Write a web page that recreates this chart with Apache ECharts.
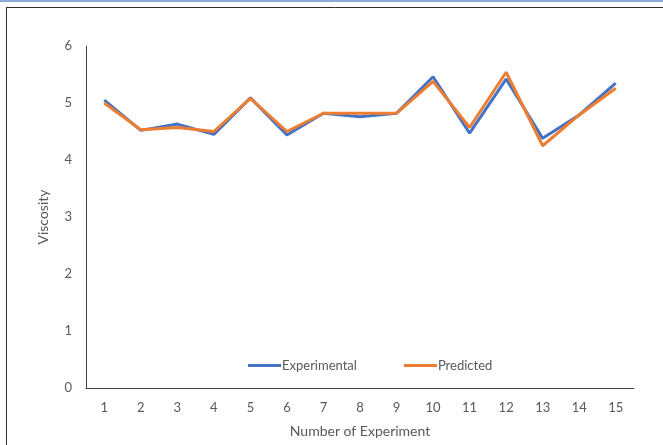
<!DOCTYPE html>
<html>
<head>
<meta charset="utf-8">
<script src="https://cdn.jsdelivr.net/npm/echarts@6/dist/echarts.min.js"></script>
<style>html,body{margin:0;padding:0;background:#fff}#c{width:663px;height:445px}</style>
</head>
<body>
<div id="c"></div>
<script>
var categories = ['1','2','3','4','5','6','7','8','9','10','11','12','13','14','15'];
var experimental = [5.05, 4.52, 4.63, 4.45, 5.09, 4.44, 4.82, 4.76, 4.82, 5.46, 4.47, 5.42, 4.38, 4.79, 5.35];
var predicted = [5.00, 4.53, 4.57, 4.50, 5.08, 4.50, 4.82, 4.82, 4.82, 5.38, 4.57, 5.54, 4.25, 4.79, 5.26];

var font = 'Lato, "Open Sans", sans-serif';
var chart = echarts.init(document.getElementById('c'), null, {renderer: 'canvas'});
chart.setOption({
  animation: false,
  textStyle: {fontFamily: font},
  grid: {left: 86, right: 29, top: 46, bottom: 57},
  legend: {
    top: 354, left: 243, itemGap: 47,
    icon: 'rect', itemWidth: 33, itemHeight: 3,
    textStyle: {color: '#595959', fontSize: 13, fontFamily: font, padding: [0,0,0,-4]},
    data: ['Experimental', 'Predicted']
  },
  xAxis: {
    type: 'category', data: categories, boundaryGap: true,
    name: 'Number of Experiment', nameLocation: 'middle', nameGap: 36,
    nameTextStyle: {color: '#595959', fontSize: 14, fontFamily: font},
    axisLine: {lineStyle: {color: '#404040', width: 1}},
    axisTick: {show: false},
    axisLabel: {color: '#595959', fontSize: 13, margin: 13, fontFamily: font}
  },
  yAxis: {
    type: 'value', min: 0, max: 6, interval: 1,
    name: 'Viscosity', nameLocation: 'middle', nameGap: 36, nameMoveOverlap: false,
    nameTextStyle: {color: '#595959', fontSize: 14, fontFamily: font},
    axisLine: {show: true, lineStyle: {color: '#404040', width: 1}},
    axisTick: {show: false},
    splitLine: {show: false},
    axisLabel: {color: '#595959', fontSize: 13, margin: 14, fontFamily: font}
  },
  series: [
    {name: 'Experimental', type: 'line', data: experimental, symbol: 'none',
     itemStyle: {color: '#4472C4'}, lineStyle: {color: '#4472C4', width: 3}},
    {name: 'Predicted', type: 'line', data: predicted, symbol: 'none',
     itemStyle: {color: '#ED7D31'}, lineStyle: {color: '#ED7D31', width: 3}}
  ],
  graphic: [
    {type: 'rect', shape: {x: 0, y: 0, width: 663, height: 2}, style: {fill: '#8EAADB'}, silent: true},
    {type: 'line', shape: {x1: 6, y1: 7.5, x2: 663, y2: 7.5}, style: {stroke: '#303030', lineWidth: 1}, silent: true},
    {type: 'line', shape: {x1: 6.5, y1: 7, x2: 6.5, y2: 445}, style: {stroke: '#303030', lineWidth: 1}, silent: true}
  ]
});
</script>
</body>
</html>
